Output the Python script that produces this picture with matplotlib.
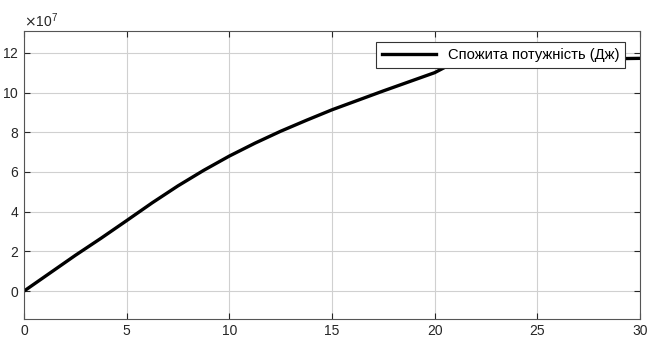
import numpy as np
import matplotlib.pyplot as plt
from matplotlib.ticker import ScalarFormatter

plt.rcParams['font.family'] = ['Liberation Sans', 'DejaVu Sans']

# time axis and consumed energy (J)
t = [0, 1.25, 2.5, 3.75, 5, 6.25, 7.5, 8.75, 10, 11.25, 12.5, 13.75, 15,
     17.5, 20, 20.5, 21, 21.5, 22, 25, 30]
energy = [0, 0.9e7, 1.8e7, 2.66e7, 3.55e7, 4.45e7, 5.3e7, 6.08e7, 6.8e7,
          7.45e7, 8.05e7, 8.6e7, 9.13e7, 10.08e7, 11.0e7,
          11.27e7, 11.45e7, 11.55e7, 11.6e7, 11.65e7, 11.72e7]
label = 'Спожита потужність (Дж)'
x_ticks = [0, 5, 10, 15, 20, 25, 30]
y_ticks = [0, 2e7, 4e7, 6e7, 8e7, 10e7, 12e7]

fig = plt.figure(figsize=(6.48, 3.4), dpi=100)
ax = fig.add_axes([0.037, 0.062, 0.9507, 0.847])

ax.plot(t, energy, color='black', lw=2.4, label=label,
        solid_joinstyle='round')

ax.set_xlim(0, 30)
ax.set_ylim(-1.4e7, 13.1e7)
ax.set_xticks(x_ticks)
ax.set_yticks(y_ticks)


class Sci7(ScalarFormatter):
    def _set_order_of_magnitude(self):
        self.orderOfMagnitude = 7


fmt = Sci7(useMathText=True)
ax.yaxis.set_major_formatter(fmt)
ax.yaxis.get_offset_text().set_fontsize(10)
ax.yaxis.get_offset_text().set_color('#262626')

ax.grid(True, color='#d0d0d0', lw=0.8)
ax.tick_params(direction='in', top=True, right=True, length=4,
               labelsize=10, colors='#262626', width=0.8)
for s in ax.spines.values():
    s.set_color('#555555')
    s.set_linewidth(0.8)

leg = ax.legend(loc='upper right', bbox_to_anchor=(0.976, 0.962),
                fontsize=10.6, handlelength=3.7, fancybox=False,
                borderaxespad=0, borderpad=0.4, framealpha=1)
leg.get_frame().set_edgecolor('#333333')
leg.get_frame().set_linewidth(0.8)

fig.savefig('out.png', dpi=100)
